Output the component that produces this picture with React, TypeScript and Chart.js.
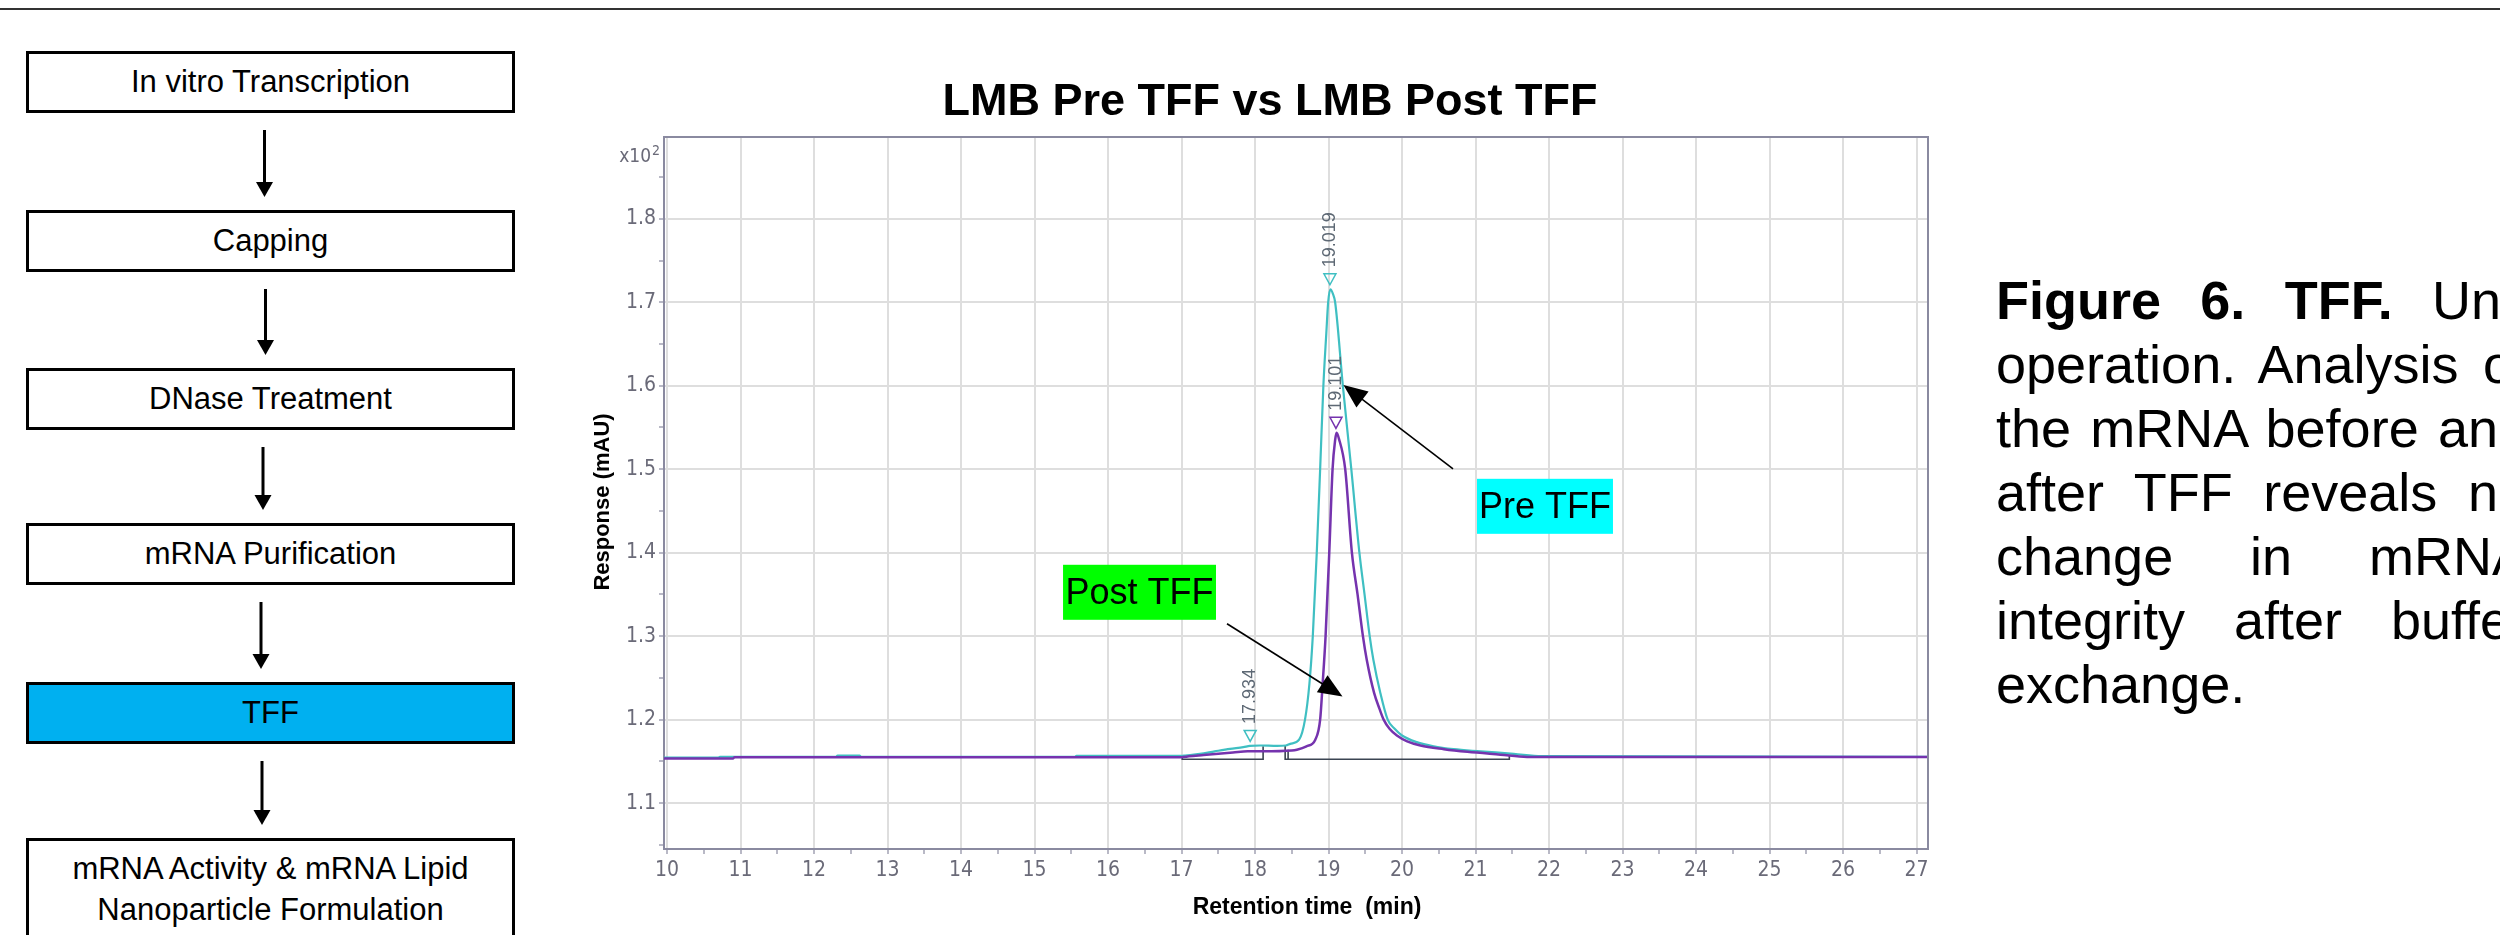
import React, { useEffect, useRef } from 'react';
import { Chart, registerables } from 'chart.js';

Chart.register(...registerables);

// ---------- Chromatogram data (retention time in min, response in mAU x10^2) ----------
const preTime = [9.959, 10.7, 10.72, 12.3, 12.32, 12.62, 12.64, 15.55, 15.57, 17.0, 17.05, 17.25, 17.45, 17.66, 17.84, 17.93, 18.07, 18.3, 18.42, 18.48, 18.6, 18.68, 18.74, 18.786, 18.84, 18.886, 18.93, 18.97, 18.995, 19.025, 19.06, 19.09, 19.195, 19.31, 19.42, 19.49, 19.56, 19.61, 19.705, 19.805, 19.9, 20.0, 20.2, 20.43, 20.7, 21.07, 21.52, 21.9, 27.156];
const preResp = [1.1545, 1.1545, 1.1555, 1.1555, 1.157, 1.157, 1.1555, 1.1555, 1.1565, 1.1565, 1.157, 1.159, 1.162, 1.165, 1.167, 1.1685, 1.169, 1.1685, 1.169, 1.171, 1.176, 1.2, 1.243, 1.3, 1.4, 1.5, 1.6, 1.663, 1.7, 1.7156, 1.71, 1.7, 1.6, 1.5, 1.4, 1.35, 1.3, 1.2717, 1.232, 1.2, 1.189, 1.181, 1.173, 1.168, 1.1646, 1.162, 1.159, 1.1562, 1.1555];

const postTime = [9.959, 10.9, 10.92, 17.0, 17.1, 17.3, 17.5, 17.7, 17.9, 18.1, 18.5, 18.57, 18.7, 18.82, 18.886, 18.92, 18.96, 19.01, 19.055, 19.09, 19.11, 19.14, 19.227, 19.318, 19.395, 19.468, 19.52, 19.62, 19.695, 19.75, 19.83, 19.93, 20.07, 20.25, 20.57, 20.89, 21.34, 21.7, 27.156];
const postResp = [1.1535, 1.1535, 1.155, 1.155, 1.156, 1.1575, 1.159, 1.1605, 1.162, 1.162, 1.163, 1.164, 1.168, 1.176, 1.2, 1.243, 1.3, 1.4, 1.5, 1.535, 1.5436, 1.537, 1.5, 1.4, 1.35, 1.3, 1.2717, 1.232, 1.2126, 1.2, 1.189, 1.181, 1.174, 1.169, 1.1646, 1.1614, 1.158, 1.1553, 1.1552];

// integration baselines
const intSeg1Time = [17.01, 17.01, 18.11, 18.11];
const intSeg1Resp = [1.1565, 1.1525, 1.1525, 1.168];
const intSeg2Time = [18.41, 18.41, 21.46, 21.46];
const intSeg2Resp = [1.169, 1.1525, 1.1525, 1.1565];
const intSeg3Time = [18.45, 18.45];
const intSeg3Resp = [1.164, 1.1525];

// peak marks
const peakTimes = [19.019, 19.101, 17.934];
const peakResp = [1.7156, 1.5436, 1.1685];
const peakIsPre = [true, false, true];

// axis ticks
const xMajor = [10, 11, 12, 13, 14, 15, 16, 17, 18, 19, 20, 21, 22, 23, 24, 25, 26, 27];
const yMajor = [1.1, 1.2, 1.3, 1.4, 1.5, 1.6, 1.7, 1.8];
const xMin = 9.959, xMax = 27.156;
const yMin = 1.045, yMax = 1.898;

// annotations (data coordinates)
const preLabel = { text: 'Pre TFF', x0: 21.02, x1: 22.87, y0: 1.4885, y1: 1.4226, bg: '#00FFFF' };
const postLabel = { text: 'Post TFF', x0: 15.388, x1: 17.469, y0: 1.3855, y1: 1.3196, bg: '#00FF00' };
const preArrow = { fromX: 20.694, fromY: 1.5005, toX: 19.203, toY: 1.601 };
const postArrow = { fromX: 17.619, fromY: 1.3148, toX: 19.19, toY: 1.2277 };

// flowchart
const steps = ['In vitro Transcription', 'Capping', 'DNase Treatment', 'mRNA Purification', 'TFF', 'mRNA Activity & mRNA Lipid\nNanoparticle Formulation'];
const stepTops = [51, 210, 368, 523, 682, 838];
const arrowX = [264.5, 265.5, 263, 261, 262];

const PRE_COLOR = '#3fbfc2';
const POST_COLOR = '#7533ae';
const AXIS_COLOR = '#8a8aa0';
const GRID_COLOR = '#dedede';
const TICK_TEXT = '#6a6a78';
const NARROW = "'Liberation Sans Narrow', 'Arial Narrow', 'DejaVu Sans Condensed', 'Liberation Sans', sans-serif";
const SANS = "'Liberation Sans', Arial, sans-serif";

const zip = (t: number[], r: number[]) => t.map((x, i) => ({ x, y: r[i] }));

function drawArrow(ctx: CanvasRenderingContext2D, x1: number, y1: number, x2: number, y2: number, len: number, half: number) {
  const a = Math.atan2(y2 - y1, x2 - x1);
  ctx.beginPath();
  ctx.moveTo(x1, y1);
  ctx.lineTo(x2 - Math.cos(a) * len * 0.8, y2 - Math.sin(a) * len * 0.8);
  ctx.stroke();
  ctx.beginPath();
  ctx.moveTo(x2, y2);
  ctx.lineTo(x2 - len * Math.cos(a) + half * Math.sin(a), y2 - len * Math.sin(a) - half * Math.cos(a));
  ctx.lineTo(x2 - len * Math.cos(a) - half * Math.sin(a), y2 - len * Math.sin(a) + half * Math.cos(a));
  ctx.closePath();
  ctx.fill();
}

const overlayPlugin = {
  id: 'overlay',
  afterDatasetsDraw(chart: any) {
    const { ctx, chartArea, scales } = chart;
    const xs = scales.x, ys = scales.y;
    ctx.save();
    // frame top/right
    ctx.strokeStyle = AXIS_COLOR;
    ctx.lineWidth = 2;
    ctx.beginPath();
    ctx.moveTo(chartArea.left, chartArea.top);
    ctx.lineTo(chartArea.right, chartArea.top);
    ctx.lineTo(chartArea.right, chartArea.bottom);
    ctx.stroke();

    // peak markers & labels
    peakTimes.forEach((t, i) => {
      const cx = xs.getPixelForValue(t);
      const py = ys.getPixelForValue(peakResp[i]);
      const cy = py - 10;
      ctx.strokeStyle = peakIsPre[i] ? PRE_COLOR : POST_COLOR;
      ctx.lineWidth = 1.5;
      ctx.beginPath();
      ctx.moveTo(cx - 6, cy - 5.5);
      ctx.lineTo(cx + 6, cy - 5.5);
      ctx.lineTo(cx, cy + 5.5);
      ctx.closePath();
      ctx.stroke();
      ctx.save();
      ctx.translate(cx, cy - 12);
      ctx.rotate(-Math.PI / 2);
      ctx.fillStyle = '#5d6874';
      ctx.font = `18px ${SANS}`;
      ctx.textAlign = 'left';
      ctx.textBaseline = 'middle';
      ctx.fillText(t.toFixed(3), 0, 0);
      ctx.restore();
    });

    // arrows
    ctx.strokeStyle = '#000';
    ctx.fillStyle = '#000';
    ctx.lineWidth = 1.6;
    [preArrow, postArrow].forEach((a) => {
      drawArrow(ctx, xs.getPixelForValue(a.fromX), ys.getPixelForValue(a.fromY), xs.getPixelForValue(a.toX), ys.getPixelForValue(a.toY), 24, 10);
    });

    // label boxes
    [preLabel, postLabel].forEach((b) => {
      const l = xs.getPixelForValue(b.x0), r = xs.getPixelForValue(b.x1);
      const t = ys.getPixelForValue(b.y0), bt = ys.getPixelForValue(b.y1);
      ctx.fillStyle = b.bg;
      ctx.fillRect(l, t, r - l, bt - t);
      ctx.fillStyle = '#000';
      ctx.font = `36px ${SANS}`;
      ctx.textAlign = 'center';
      ctx.textBaseline = 'middle';
      ctx.fillText(b.text, (l + r) / 2, (t + bt) / 2 + 2);
    });
    ctx.restore();
  },
  afterDraw(chart: any) {
    const { ctx, chartArea } = chart;
    ctx.save();
    // main title
    ctx.fillStyle = '#000';
    ctx.font = `bold 45px ${SANS}`;
    ctx.textAlign = 'center';
    ctx.textBaseline = 'alphabetic';
    ctx.fillText('LMB Pre TFF vs LMB Post TFF', (chartArea.left + chartArea.right) / 2 - 26, chartArea.top - 22);
    // x title
    ctx.font = `bold 23px ${SANS}`;
    ctx.textBaseline = 'middle';
    ctx.fillText('Retention time  (min)', (chartArea.left + chartArea.right) / 2 + 11, chartArea.bottom + 59);
    // y title
    ctx.save();
    ctx.translate(chartArea.left - 61, (chartArea.top + chartArea.bottom) / 2 + 9);
    ctx.rotate(-Math.PI / 2);
    ctx.font = `bold 22px ${SANS}`;
    ctx.fillText('Response (mAU)', 0, 0);
    ctx.restore();
    // x10^2
    ctx.fillStyle = TICK_TEXT;
    ctx.font = `19px ${NARROW}`;
    ctx.textAlign = 'right';
    ctx.textBaseline = 'alphabetic';
    ctx.fillText('x10', chartArea.left - 13, chartArea.top + 25);
    ctx.font = `14px ${NARROW}`;
    ctx.textAlign = 'left';
    ctx.fillText('2', chartArea.left - 12, chartArea.top + 18);
    ctx.restore();
  },
};

function Chromatogram() {
  const ref = useRef<HTMLCanvasElement | null>(null);
  useEffect(() => {
    if (!ref.current) return;
    const xTicks: number[] = [];
    xMajor.forEach((v) => { xTicks.push(v); if (v < 27) xTicks.push(v + 0.5); });
    const yTicks: number[] = [];
    yMajor.forEach((v) => { yTicks.push(Math.round((v - 0.05) * 100) / 100); yTicks.push(v); });
    yTicks.push(1.85);
    const isMajorY = (v: number) => yMajor.some((m) => Math.abs(m - v) < 1e-6);
    const isMajorX = (v: number) => xMajor.some((m) => Math.abs(m - v) < 1e-6);
    const lineBase = { pointRadius: 0, fill: false, parsing: true };
    const chart = new Chart(ref.current, {
      type: 'line',
      data: {
        datasets: [
          { ...lineBase, label: 'Post TFF', data: zip(postTime, postResp), borderColor: POST_COLOR, borderWidth: 2.5, cubicInterpolationMode: 'monotone' },
          { ...lineBase, label: 'Pre TFF', data: zip(preTime, preResp), borderColor: PRE_COLOR, borderWidth: 2.2, cubicInterpolationMode: 'monotone' },
          { ...lineBase, label: 'int1', data: zip(intSeg1Time, intSeg1Resp), borderColor: '#3b4452', borderWidth: 1.6, tension: 0 },
          { ...lineBase, label: 'int2', data: zip(intSeg2Time, intSeg2Resp), borderColor: '#3b4452', borderWidth: 1.6, tension: 0 },
          { ...lineBase, label: 'int3', data: zip(intSeg3Time, intSeg3Resp), borderColor: '#3b4452', borderWidth: 1.6, tension: 0 },
        ] as any,
      },
      options: {
        responsive: false,
        animation: false,
        devicePixelRatio: 1,
        events: [],
        layout: { padding: { left: 0, right: 32, top: 77, bottom: 0 } },
        plugins: { legend: { display: false }, tooltip: { enabled: false }, title: { display: false } },
        scales: {
          x: {
            type: 'linear',
            min: xMin,
            max: xMax,
            afterBuildTicks: (s: any) => { s.ticks = xTicks.map((v) => ({ value: v })); },
            afterFit: (s: any) => { s.height = 86; },
            ticks: {
              autoSkip: false, maxRotation: 0, minRotation: 0, padding: 4, color: TICK_TEXT,
              font: { family: NARROW, size: 21 },
              callback: (v: any) => (isMajorX(Number(v)) ? String(Math.round(Number(v))) : ''),
            },
            grid: {
              color: (c: any) => (c.tick && isMajorX(c.tick.value) ? GRID_COLOR : 'rgba(0,0,0,0)'),
              lineWidth: 2, tickLength: 5, tickColor: AXIS_COLOR, tickWidth: 1.2,
            },
            border: { display: true, color: AXIS_COLOR, width: 2 },
          },
          y: {
            type: 'linear',
            min: yMin,
            max: yMax,
            afterBuildTicks: (s: any) => { s.ticks = yTicks.map((v) => ({ value: v })); },
            afterFit: (s: any) => { s.width = 104; },
            ticks: {
              autoSkip: false, padding: 3, color: TICK_TEXT,
              font: { family: NARROW, size: 21 },
              callback: (v: any) => (isMajorY(Number(v)) ? Number(v).toFixed(1) : ''),
            },
            grid: {
              color: (c: any) => (c.tick && isMajorY(c.tick.value) ? GRID_COLOR : 'rgba(0,0,0,0)'),
              lineWidth: 2, tickLength: 5, tickColor: AXIS_COLOR, tickWidth: 1.2,
            },
            border: { display: true, color: AXIS_COLOR, width: 2 },
          },
        },
      } as any,
      plugins: [overlayPlugin],
    });
    return () => chart.destroy();
  }, []);
  return <canvas ref={ref} width={1400} height={875} style={{ position: 'absolute', left: 560, top: 60, width: 1400, height: 875 }} />;
}

function Flowchart() {
  return (
    <>
      {steps.map((s, i) => {
        const last = i === steps.length - 1;
        return (
          <div
            key={s}
            style={{
              position: 'absolute', left: 26, top: stepTops[i], width: 489, height: last ? 130 : 62,
              boxSizing: 'border-box', border: '3px solid #000', background: s === 'TFF' ? '#00B0F0' : '#fff',
              display: 'flex', alignItems: last ? 'flex-start' : 'center', justifyContent: 'center',
              paddingTop: last ? 7 : 0, font: `31px ${SANS}`, lineHeight: last ? '41px' : '36px',
              whiteSpace: 'pre-line', textAlign: 'center', color: '#000',
            }}
          >
            {s}
          </div>
        );
      })}
      <svg width={560} height={935} style={{ position: 'absolute', left: 0, top: 0 }}>
        {arrowX.map((x, i) => {
          const y1 = stepTops[i] + 62 + 17;
          const tip = stepTops[i + 1] - 13;
          return (
            <g key={i}>
              <line x1={x} y1={y1} x2={x} y2={tip - 12} stroke="#000" strokeWidth={3} />
              <polygon points={`${x - 8.5},${tip - 15} ${x + 8.5},${tip - 15} ${x},${tip}`} fill="#000" />
            </g>
          );
        })}
      </svg>
    </>
  );
}

const captionRest = [
  'operation. Analysis of',
  'the mRNA before and',
  'after TFF reveals no',
  'change in mRNA',
  'integrity after buffer',
];

function Caption() {
  const lineStyle: React.CSSProperties = { textAlign: 'justify', textAlignLast: 'justify' as any, height: 64, whiteSpace: 'normal' };
  return (
    <div style={{ position: 'absolute', left: 1996, top: 268, width: 532, font: `54px ${SANS}`, lineHeight: '64px', color: '#000' }}>
      <div style={lineStyle}><b>Figure 6. TFF.</b> Unit</div>
      {captionRest.map((l) => (<div key={l} style={lineStyle}>{l}</div>))}
      <div style={{ textAlign: 'left', height: 64 }}>exchange.</div>
    </div>
  );
}

export default function App() {
  return (
    <div style={{ position: 'absolute', left: 0, top: 0, width: 2500, height: 935, overflow: 'hidden', background: '#fff' }}>
      <div style={{ position: 'absolute', left: 0, top: 8, width: 2500, height: 2, background: '#333' }} />
      <Flowchart />
      <Chromatogram />
      <Caption />
    </div>
  );
}
